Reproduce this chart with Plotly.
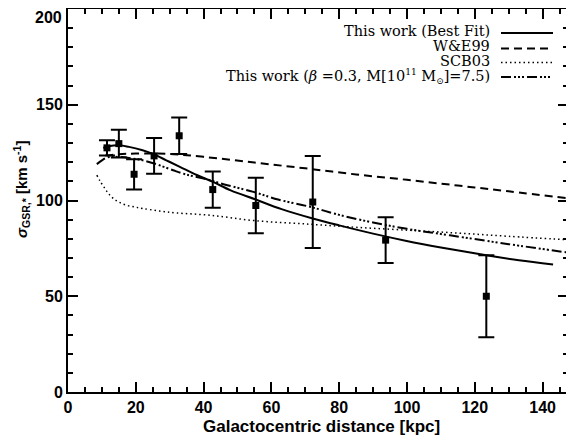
import plotly.graph_objects as go

# Observed data (Galactocentric distance, dispersion, 1-sigma error)
obs_r = [11.5, 15.0, 19.5, 25.4, 32.8, 42.7, 55.4, 72.2, 93.7, 123.4]
obs_sigma = [127.5, 129.7, 113.7, 123.3, 133.8, 105.7, 97.4, 99.2, 79.3, 50.0]
obs_err = [4.0, 7.2, 7.9, 9.3, 9.5, 9.5, 14.5, 24.0, 11.9, 21.4]

# Best fit (solid)
fit_r = [10.4, 12, 15, 18, 22, 25.2, 29, 33, 38, 42.8, 48, 55.4, 63, 72.2, 80, 90, 99.9, 110, 123.4, 133, 143.1]
fit_s = [127.5, 128.3, 128.8, 128.0, 126.2, 124.2, 121.0, 117.6, 113.3, 109.7, 105.3, 100.5, 95.5, 90.6, 87.0, 82.7, 78.9, 75.5, 71.4, 68.8, 66.6]

# W&E99 (dashed)
we_r = [11, 15, 20, 30, 40, 55, 70, 85, 100, 115, 130, 147.5]
we_s = [123.5, 124.2, 124.5, 124.3, 122.8, 119.8, 116.8, 113.6, 110.8, 107.8, 104.8, 101.2]

# SCB03 (dotted)
scb_r = [8.5, 9.5, 10.9, 12, 13.4, 15, 17.3, 20, 22.2, 27, 32, 42, 55, 71.4, 85, 100, 115, 130, 147.5]
scb_s = [113.2, 110.0, 106.3, 103.5, 101.0, 99.2, 97.5, 96.5, 95.8, 94.5, 93.5, 92.3, 89.5, 87.6, 86.0, 84.5, 83.0, 81.3, 79.5]

# This work beta=0.3, M=7.5 (dash-dot-dot)
alt_r = [8.5, 10, 11.5, 14, 18, 22, 26, 31, 35, 40, 47, 54.7, 62, 71.4, 80, 90, 100, 112.7, 130, 147.5]
alt_s = [119.0, 121.0, 122.5, 122.8, 122.2, 121.0, 119.0, 115.8, 113.5, 111.5, 108.0, 104.5, 100.5, 96.7, 92.5, 88.5, 85.2, 81.8, 77.2, 72.8]

x_ticks = [0, 20, 40, 60, 80, 100, 120, 140]
y_ticks = [0, 50, 100, 150, 200]

DASH = "8px,5px"
DOT = "1.5px,3px"
DDD = "10px,3px,2px,2px,2px,2px,2px,3px"

fig = go.Figure()
fig.add_trace(go.Scatter(x=fit_r, y=fit_s, mode="lines", line=dict(color="black", width=2), line_shape="spline"))
fig.add_trace(go.Scatter(x=we_r, y=we_s, mode="lines", line=dict(color="black", width=2, dash=DASH), line_shape="spline"))
fig.add_trace(go.Scatter(x=scb_r, y=scb_s, mode="lines", line=dict(color="black", width=1.5, dash=DOT), line_shape="spline"))
fig.add_trace(go.Scatter(x=alt_r, y=alt_s, mode="lines", line=dict(color="black", width=2, dash=DDD), line_shape="spline"))
fig.add_trace(go.Scatter(
    x=obs_r, y=obs_sigma, mode="markers",
    marker=dict(symbol="square", size=7, color="black"),
    error_y=dict(type="data", array=obs_err, visible=True, color="black", thickness=2, width=8),
))

tickfont = dict(family="Liberation Sans", size=16, color="black", weight="bold")
fig.update_xaxes(
    range=[0, 147.5], tickvals=x_ticks, ticks="inside", ticklen=10, tickwidth=2,
    minor=dict(ticks="inside", ticklen=5, tickwidth=1.5, dtick=5, tick0=0, tickcolor="black"),
    showline=True, linecolor="black", linewidth=2, mirror="ticks", showgrid=False, zeroline=False,
    tickfont=tickfont, tickcolor="black", automargin=False,
)
# the top label (200) would overflow the page, so it is drawn slightly lower as an annotation, like the reference
y_ticktext = [str(v) for v in y_ticks[:-1]] + [""]
fig.update_yaxes(
    range=[0, 200], tickvals=y_ticks, ticktext=y_ticktext, ticks="inside", ticklen=10, tickwidth=2,
    minor=dict(ticks="inside", ticklen=5, tickwidth=1.5, dtick=10, tick0=0, tickcolor="black"),
    showline=True, linecolor="black", linewidth=2, mirror="ticks", showgrid=False, zeroline=False,
    tickfont=tickfont, tickcolor="black", automargin=False,
)

# Page body adds an 8px offset at top/left; compensate so the plot area lands where the reference has it
OFF = 8
W, H = 574 - OFF, 441 - OFF
L, R, T, B = 68 - OFF, 6, 9 - OFF, 49
pw, ph = W - L - R, H - T - B

def px(x):
    return (x - OFF - L) / pw

def py(y):
    return (H - B - (y - OFF)) / ph

legend_items = [
    ("This work (Best Fit)", 31, 33, dict(color="black", width=2)),
    ("W&amp;E99", 46.5, 48.5, dict(color="black", width=2, dash=DASH)),
    ("SCB03", 61, 62.5, dict(color="black", width=1.5, dash=DOT)),
    ("This work (<i>β</i> =0.3, M[10<sup><span style='font-size:9px'>11</span></sup> M<sub><span style='font-size:9px'>⊙</span></sub>]=7.5)", 76, 77, dict(color="black", width=2, dash=DDD)),
]
annotations = []
shapes = []
for text, ycen, yline, ln in legend_items:
    annotations.append(dict(
        x=px(491), y=py(ycen), xref="paper", yref="paper", xanchor="right", yanchor="middle",
        text=text, showarrow=False, borderpad=0,
        font=dict(family="DejaVu Serif", size=14.5, color="black"),
    ))
    shapes.append(dict(type="line", xref="paper", yref="paper", x0=px(501), x1=px(553),
                       y0=py(yline), y1=py(yline), line=ln))

annotations.append(dict(
    x=px(63), y=py(17.5), xref="paper", yref="paper", xanchor="right", yanchor="middle",
    text=str(y_ticks[-1]), showarrow=False, borderpad=0, font=tickfont,
))
annotations.append(dict(
    x=px(321), y=py(426), xref="paper", yref="paper", xanchor="center", yanchor="middle",
    text="<b>Galactocentric distance [kpc]</b>", showarrow=False,
    font=dict(family="Liberation Sans", size=17, color="black"),
))
annotations.append(dict(
    x=px(21), y=py(190), xref="paper", yref="paper", xanchor="center", yanchor="middle",
    textangle=-90,
    text="<b><i>σ</i></b><sub><b>GSR,*</b></sub><b> [km s<sup>-1</sup>]</b>", showarrow=False,
    font=dict(family="Liberation Sans", size=15, color="black"),
))

fig.update_layout(
    width=W, height=H, margin=dict(l=L, r=R, t=T, b=B, autoexpand=False),
    paper_bgcolor="white", plot_bgcolor="white", showlegend=False,
    annotations=annotations, shapes=shapes,
)

fig.write_html("out.html")
